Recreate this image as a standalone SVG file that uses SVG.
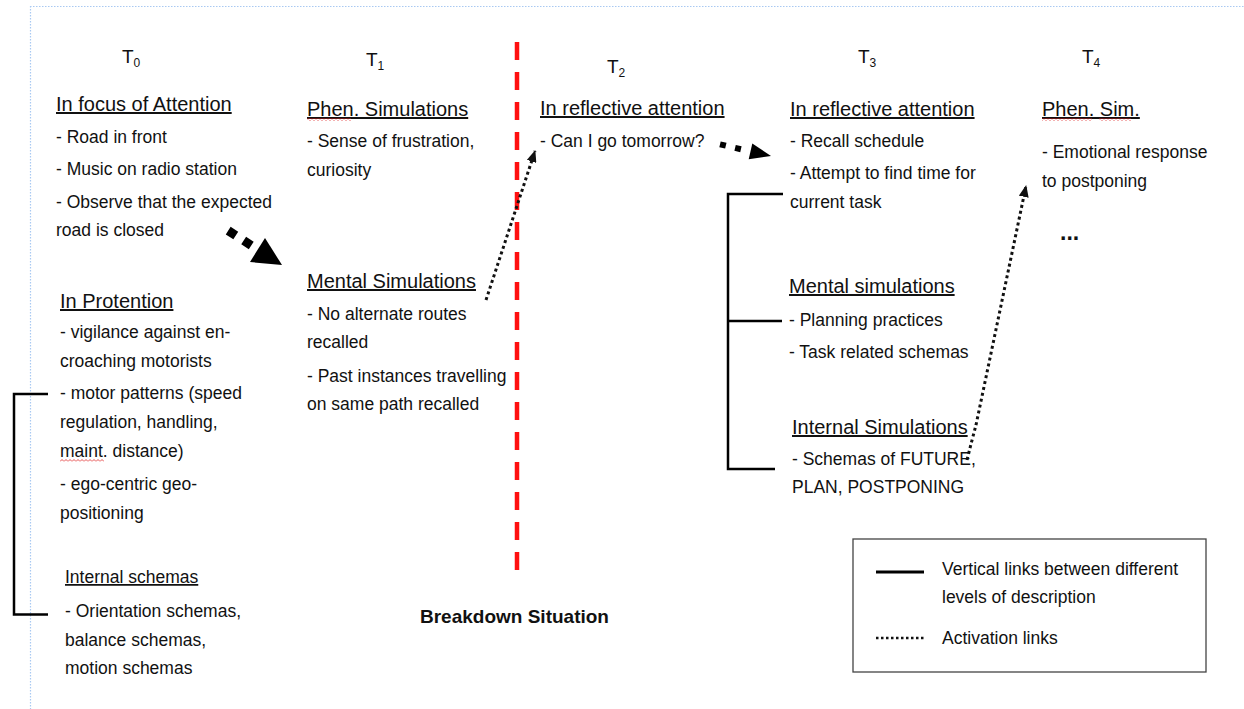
<svg xmlns="http://www.w3.org/2000/svg" width="1244" height="709" viewBox="0 0 1244 709">
<style>
text{font-family:"Liberation Sans",Arial,sans-serif;fill:#111;font-size:17.5px}
.h{font-size:20px;text-decoration:underline}
.hs{text-decoration:underline}
.tl{font-size:19px}
.sub{font-size:12px}
.b{font-weight:bold;font-size:19px}
.dot{fill:none;stroke:#111;stroke-width:3;stroke-dasharray:3 3}
.br{fill:none;stroke:#000;stroke-width:2.5}
</style>
<defs>
<pattern id="sq" width="4" height="3" patternUnits="userSpaceOnUse">
<polyline points="0,2.5 2,0.5 4,2.5" fill="none" stroke="#e02020" stroke-width="0.8"/>
</pattern>
<marker id="ah" markerUnits="userSpaceOnUse" markerWidth="12" markerHeight="10" refX="11" refY="5" orient="auto">
<path d="M0,0 L12,5 L0,10 z" fill="#111"/>
</marker>
</defs>
<rect width="1244" height="709" fill="#fff"/>
<g id="page-border" fill="none" stroke="#a9c9f2" stroke-width="1.2" stroke-dasharray="1.5 1.5">
<path d="M30,6.5 H1244 M30.5,6 V709"/>
</g>
<g id="time-labels">
<text class="tl" x="122" y="63">T<tspan class="sub" dy="4">0</tspan></text>
<text class="tl" x="366" y="66">T<tspan class="sub" dy="4">1</tspan></text>
<text class="tl" x="607" y="73">T<tspan class="sub" dy="4">2</tspan></text>
<text class="tl" x="858" y="63">T<tspan class="sub" dy="4">3</tspan></text>
<text class="tl" x="1082" y="63">T<tspan class="sub" dy="4">4</tspan></text>
</g>
<g id="breakdown-line">
<line x1="517" y1="42" x2="517" y2="576" stroke="#ff1010" stroke-width="4.5" stroke-dasharray="18 12"/>
<text class="b" x="420" y="623">Breakdown Situation</text>
</g>
<g id="t0-focus">
<text class="h" x="56" y="111">In focus of Attention</text>
<text x="56" y="143">- Road in front</text>
<text x="56" y="175">- Music on radio station</text>
<text x="56" y="208">- Observe that the expected</text>
<text x="56" y="236">road is closed</text>
</g>
<g id="t0-protention">
<text class="h" x="60" y="308">In Protention</text>
<text x="60" y="338">- vigilance against en-</text>
<text x="60" y="367">croaching motorists</text>
<text x="60" y="399">- motor patterns (speed</text>
<text x="60" y="428">regulation, handling,</text>
<text x="60" y="457">maint. distance)</text>
<rect x="60" y="459" width="44" height="3" fill="url(#sq)"/>
<text x="60" y="490">- ego-centric geo-</text>
<text x="60" y="519">positioning</text>
</g>
<g id="t0-internal-schemas">
<text class="hs" x="65" y="583">Internal schemas</text>
<text x="65" y="617">- Orientation schemas,</text>
<text x="65" y="646">balance schemas,</text>
<text x="65" y="674">motion schemas</text>
</g>
<g id="t1-phen">
<text class="h" x="307" y="116">Phen. Simulations</text>
<rect x="307" y="118" width="44" height="3" fill="url(#sq)"/>
<text x="307" y="147">- Sense of frustration,</text>
<text x="307" y="176">curiosity</text>
</g>
<g id="t1-mental">
<text class="h" x="307" y="288">Mental Simulations</text>
<text x="307" y="320">- No alternate routes</text>
<text x="307" y="348">recalled</text>
<text x="307" y="382">- Past instances travelling</text>
<text x="307" y="410">on same path recalled</text>
</g>
<g id="t2-reflective">
<text class="h" x="540" y="115">In reflective attention</text>
<text x="540" y="147">- Can I go tomorrow?</text>
</g>
<g id="t3-reflective">
<text class="h" x="790" y="116">In reflective attention</text>
<text x="790" y="147">- Recall schedule</text>
<text x="790" y="179">- Attempt to find time for</text>
<text x="790" y="208">current task</text>
</g>
<g id="t3-mental">
<text class="h" x="789" y="293">Mental simulations</text>
<text x="789" y="326">- Planning practices</text>
<text x="789" y="358">- Task related schemas</text>
</g>
<g id="t3-internal">
<text class="h" x="792" y="434">Internal Simulations</text>
<text x="792" y="465">- Schemas of FUTURE,</text>
<text x="792" y="493">PLAN, POSTPONING</text>
</g>
<g id="t4-phen">
<text class="h" x="1042" y="116">Phen. Sim.</text>
<rect x="1042" y="118" width="50" height="3" fill="url(#sq)"/>
<rect x="1099" y="118" width="32" height="3" fill="url(#sq)"/>
<text x="1042" y="158">- Emotional response</text>
<text x="1042" y="187">to postponing</text>
<text x="1060" y="240" style="font-size:23px;font-weight:bold">...</text>
</g>
<g id="connectors">
<line x1="228.2" y1="230.6" x2="252" y2="245.9" stroke="#000" stroke-width="9" stroke-dasharray="9 9.4"/>
<polygon points="265,238 250,262 282,265" fill="#000"/>
<line x1="720" y1="144.3" x2="744" y2="150" stroke="#000" stroke-width="6" stroke-dasharray="6 9.5"/>
<polygon points="752.3,143.6 748.7,159.2 771,156" fill="#000"/>
<path class="dot" d="M486,300 L535,151" marker-end="url(#ah)"/>
<path class="dot" d="M967,460 Q972,440 976,425 L1026,186" marker-end="url(#ah)"/>
<path class="br" d="M48,394 H14 V614.5 H48"/>
<path class="br" d="M783,194 H728 V469 H775 M728,321 H782"/>
</g>
<g id="legend">
<rect x="853" y="539" width="353" height="133" fill="none" stroke="#444" stroke-width="1.3"/>
<line x1="876" y1="572" x2="924" y2="572" stroke="#000" stroke-width="3"/>
<text x="942" y="575">Vertical links between different</text>
<text x="942" y="603">levels of description</text>
<line x1="876" y1="638" x2="924" y2="638" stroke="#111" stroke-width="2.5" stroke-dasharray="2.5 2.5"/>
<text x="942" y="644">Activation links</text>
</g>
</svg>
